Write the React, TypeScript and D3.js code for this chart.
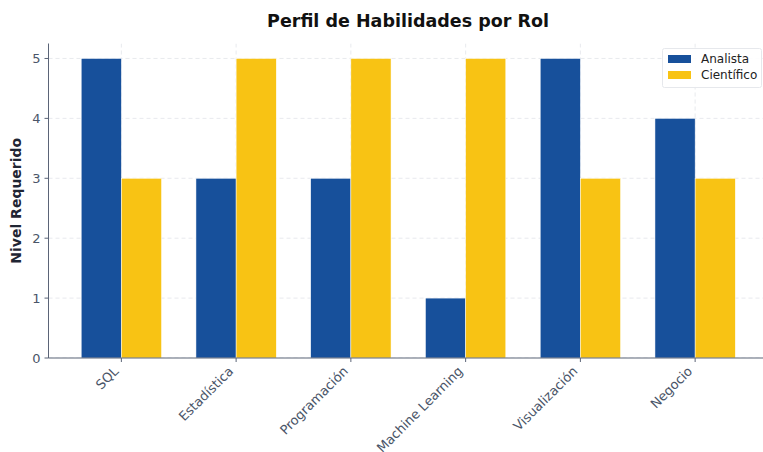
import React from "react";
import * as d3 from "d3";

const categories = ["SQL", "Estadística", "Programación", "Machine Learning", "Visualización", "Negocio"];
const analista = [5, 3, 3, 1, 5, 4];
const cientifico = [3, 5, 5, 5, 3, 3];
const seriesNames = ["Analista", "Científico"];
const yTicks = [0, 1, 2, 3, 4, 5];

const W = 763, H = 452;
const left = 48.5, right = 768, top = 43.5, bottom = 358;
const BLUE = "#17509b", YELLOW = "#f8c314";
const AX = "#5b6477", TXT = "#4a5568";
const FONT = "DejaVu Sans, sans-serif";

export default function App() {
  const x = d3.scaleLinear().domain([-0.635, 5.635]).range([left, right]);
  const y = d3.scaleLinear().domain([0, 5.25]).range([bottom, top]);
  const bw = 0.35;
  const series = [analista, cientifico];
  const colors = [BLUE, YELLOW];
  return (
    <svg width={W} height={H} style={{ display: "block", position: "absolute", left: 0, top: 0 }} fontFamily={FONT}>
      <rect width={W} height={H} fill="#fff" />
      <defs>
        <clipPath id="ax"><rect x={left} y={top} width={W - left} height={bottom - top} /></clipPath>
      </defs>
      <g clipPath="url(#ax)">
        {yTicks.map((t) => (
          <line key={"gy" + t} x1={left} x2={W} y1={y(t)} y2={y(t)} stroke="#e2e5ea" strokeDasharray="4,3" strokeWidth={0.8} />
        ))}
        {categories.map((c, i) => (
          <line key={"gx" + i} x1={x(i)} x2={x(i)} y1={top} y2={bottom} stroke="#e2e5ea" strokeDasharray="4,3" strokeWidth={0.8} />
        ))}
        {series.map((s, si) =>
          s.map((v, i) => {
            const x0 = x(i + (si === 0 ? -bw : 0));
            const x1 = x(i + (si === 0 ? 0 : bw));
            return (
              <rect key={si + "-" + i} x={x0} y={y(v)} width={x1 - x0} height={y(0) - y(v)} fill={colors[si]} stroke="#fff" strokeWidth={0.5} />
            );
          })
        )}
      </g>
      <line x1={left} x2={left} y1={top} y2={bottom} stroke={AX} strokeWidth={1} />
      <line x1={left} x2={W} y1={bottom} y2={bottom} stroke={AX} strokeWidth={1} />
      {yTicks.map((t) => (
        <g key={"ty" + t}>
          <line x1={left - 4} x2={left} y1={y(t)} y2={y(t)} stroke={AX} />
          <text x={left - 8} y={y(t)} dy="0.36em" textAnchor="end" fontSize={13} fill={TXT}>{t}</text>
        </g>
      ))}
      {categories.map((c, i) => (
        <g key={"tx" + i}>
          <line x1={x(i)} x2={x(i)} y1={bottom} y2={bottom + 4} stroke={AX} />
          <text transform={`translate(${x(i) - 2},${bottom + 14}) rotate(-45)`} textAnchor="end" fontSize={13} fill={TXT}>{c}</text>
        </g>
      ))}
      <text x={408} y={27} textAnchor="middle" fontSize={17.5} fontWeight="bold" fill="#111">Perfil de Habilidades por Rol</text>
      <text transform={`translate(21,${(top + bottom) / 2}) rotate(-90)`} textAnchor="middle" fontSize={14} fontWeight="bold" fill="#1f2533">Nivel Requerido</text>
      <g>
        <rect x={662.5} y={48.5} width={99} height={39} fill="#fff" fillOpacity={0.9} stroke="#e6e8ec" rx={2} />
        {seriesNames.map((n, i) => (
          <g key={n}>
            <rect x={668} y={55 + i * 16} width={23} height={8} fill={colors[i]} />
            <text x={701} y={59 + i * 16} dy="0.35em" fontSize={12} fill="#222">{n}</text>
          </g>
        ))}
      </g>
    </svg>
  );
}
